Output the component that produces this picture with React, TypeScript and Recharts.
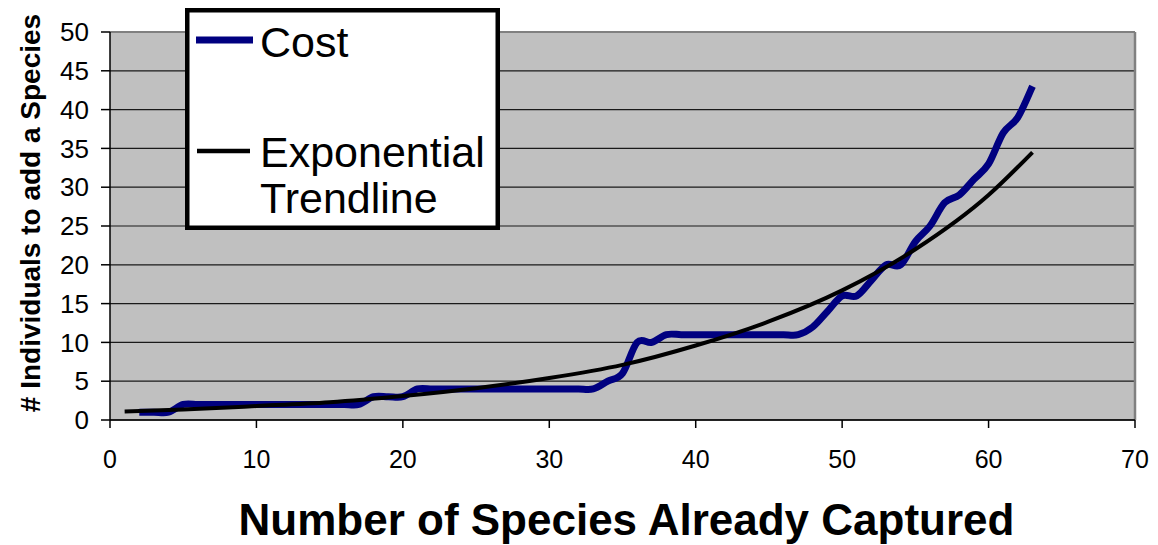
import { LineChart, Line, XAxis, YAxis, CartesianGrid, ReferenceLine, Legend } from 'recharts';

// species already captured (x) and individuals needed to add one more (y)
const speciesCaptured = [
  2, 3, 4, 5, 6, 7, 8, 9, 10, 11, 12, 13, 14, 15, 16, 17, 18, 19, 20, 21,
  22, 23, 24, 25, 26, 27, 28, 29, 30, 31, 32, 33, 34, 35, 36, 37, 38, 39, 40, 41,
  42, 43, 44, 45, 46, 47, 48, 49, 50, 51, 52, 53, 54, 55, 56, 57, 58, 59, 60, 61,
  62, 63,
];
const costValues = [
  1, 1, 1, 2, 2, 2, 2, 2, 2, 2, 2, 2, 2, 2, 2, 2, 3, 3, 3, 4,
  4, 4, 4, 4, 4, 4, 4, 4, 4, 4, 4, 4, 5, 6, 10, 10, 11, 11, 11, 11,
  11, 11, 11, 11, 11, 11, 12, 14, 16, 16, 18, 20, 20, 23, 25, 28, 29, 31, 33, 37,
  39, 43,
];

// exponential trendline
const trendX = [1, 5, 10, 15, 20, 25, 30, 35, 40, 45, 50, 55, 60, 63];
const trendValues = [1.1, 1.35, 1.8, 2.3, 3.1, 4.1, 5.4, 7.1, 9.6, 12.7, 16.7, 22, 29, 34.5];

const xTicks = [0, 10, 20, 30, 40, 50, 60, 70];
const yTicks = [0, 5, 10, 15, 20, 25, 30, 35, 40, 45, 50];

const costData = speciesCaptured.map((x, i) => ({ x, cost: costValues[i] }));
const trendData = trendX.map((x, i) => ({ x, trend: trendValues[i] }));

const FONT = '"Liberation Sans", Arial, sans-serif';

// Excel-style smoothed line (catmull-rom through the points)
function excelSmooth(context: any) {
  let pts: number[][] = [];
  return {
    areaStart() {},
    areaEnd() {},
    lineStart() {
      pts = [];
    },
    point(x: number, y: number) {
      pts.push([+x, +y]);
    },
    lineEnd() {
      if (!pts.length) return;
      context.moveTo(pts[0][0], pts[0][1]);
      for (let i = 0; i < pts.length - 1; i++) {
        const p0 = pts[i - 1] || pts[i];
        const p1 = pts[i];
        const p2 = pts[i + 1];
        const p3 = pts[i + 2] || p2;
        context.bezierCurveTo(
          p1[0] + (p2[0] - p0[0]) / 6,
          p1[1] + (p2[1] - p0[1]) / 6,
          p2[0] - (p3[0] - p1[0]) / 6,
          p2[1] - (p3[1] - p1[1]) / 6,
          p2[0],
          p2[1]
        );
      }
    },
  };
}

function LegendBox() {
  return (
    <svg width={315} height={222} style={{ display: 'block' }}>
      <rect x={2.25} y={2.25} width={310.5} height={217.5} fill="#fff" stroke="#000" strokeWidth={4.5} />
      <line x1={11} y1={32} x2={68} y2={32} stroke="#000080" strokeWidth={7} />
      <text x={75} y={49} fontSize={43} fontFamily={FONT} fill="#000">Cost</text>
      <line x1={12} y1={143} x2={65} y2={143} stroke="#000" strokeWidth={4.5} />
      <text x={75} y={159} fontSize={43} fontFamily={FONT} fill="#000">Exponential</text>
      <text x={75} y={205} fontSize={43} fontFamily={FONT} fill="#000">Trendline</text>
    </svg>
  );
}

function XTitle(props: any) {
  const { viewBox } = props;
  return (
    <text
      x={viewBox.x + viewBox.width / 2 + 4}
      y={viewBox.y + viewBox.height - 10}
      textAnchor="middle"
      fontSize={44}
      fontWeight="bold"
      fontFamily={FONT}
      fill="#000"
    >
      Number of Species Already Captured
    </text>
  );
}

function YTitle(props: any) {
  const { viewBox } = props;
  const cx = 40;
  const cy = viewBox.y + viewBox.height / 2 - 13;
  return (
    <text
      x={cx}
      y={cy}
      transform={`rotate(-90 ${cx} ${cy})`}
      textAnchor="middle"
      fontSize={28}
      fontWeight="bold"
      fontFamily={FONT}
      fill="#000"
    >
      # Individuals to add a Species
    </text>
  );
}

export default function App() {
  return (
    <div style={{ position: 'absolute', left: 0, top: 0, width: 1158, height: 545, background: '#fff' }}>
      <LineChart width={1158} height={545} margin={{ top: 32, right: 23, left: 0, bottom: 0 }}>
        <CartesianGrid vertical={false} fill="#c0c0c0" stroke="#1a1a1a" strokeWidth={1.2} />
        <XAxis
          type="number"
          dataKey="x"
          domain={[0, 70]}
          ticks={xTicks}
          interval={0}
          height={125}
          tickSize={8}
          tickMargin={22}
          axisLine={{ stroke: '#000', strokeWidth: 1.5 }}
          tickLine={{ stroke: '#000', strokeWidth: 1.5 }}
          tick={{ fontSize: 25, fill: '#000', fontFamily: FONT }}
          label={{ content: <XTitle /> }}
        />
        <YAxis
          type="number"
          domain={[0, 50]}
          ticks={yTicks}
          interval={0}
          width={110}
          tickSize={9}
          tickMargin={12}
          axisLine={{ stroke: '#000', strokeWidth: 1.5 }}
          tickLine={{ stroke: '#000', strokeWidth: 1.5 }}
          tick={{ fontSize: 26, fill: '#000', fontFamily: FONT }}
          label={{ content: <YTitle /> }}
        />
        <ReferenceLine y={50} stroke="#808080" strokeWidth={2} />
        <ReferenceLine x={70} stroke="#808080" strokeWidth={2.5} />
        <Line
          data={costData}
          dataKey="cost"
          name="Cost"
          type={excelSmooth as any}
          stroke="#000080"
          strokeWidth={7}
          dot={false}
          isAnimationActive={false}
        />
        <Line
          data={trendData}
          dataKey="trend"
          name="Exponential Trendline"
          type="monotone"
          stroke="#000"
          strokeWidth={4}
          dot={false}
          isAnimationActive={false}
        />
        <Legend
          layout="horizontal"
          verticalAlign="middle"
          align="center"
          content={() => <LegendBox />}
          wrapperStyle={{ position: 'absolute', left: 185, top: 8, width: 315, height: 222 }}
        />
      </LineChart>
    </div>
  );
}
